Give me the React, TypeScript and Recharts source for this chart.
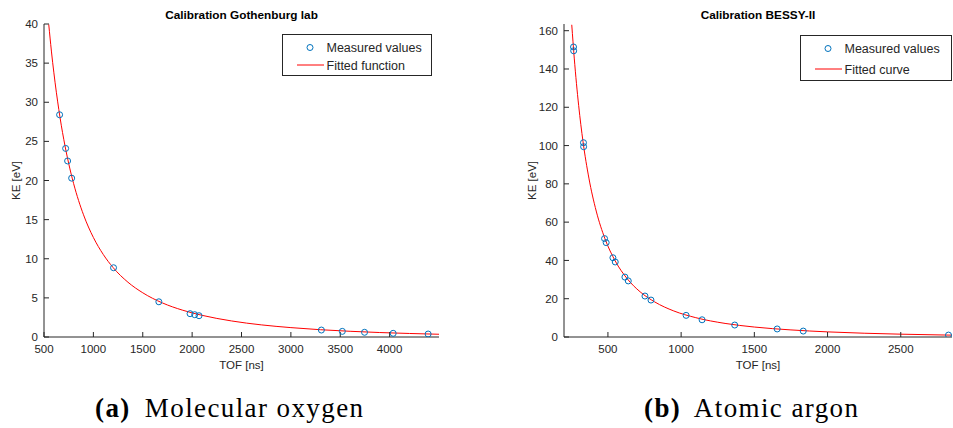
import React from "react";
import { ComposedChart, Scatter, Line, XAxis, YAxis, Legend } from "recharts";

// Gothenburg lab, molecular oxygen
const o2Tof = [658, 719, 739, 780, 1204, 1663, 1979, 2026, 2070, 3309, 3521, 3746, 4036, 4390];
const o2Ke = [28.4, 24.1, 22.5, 20.3, 8.85, 4.5, 2.98, 2.85, 2.72, 0.89, 0.72, 0.6, 0.47, 0.38];
const o2FitTof = [548, 575, 600, 650, 700, 750, 800, 900, 1000, 1100, 1200, 1350, 1500, 1700, 1900, 2100, 2400, 2700, 3000, 3300, 3600, 3900, 4200, 4500];
const o2FitKe = [39.95, 36.54, 33.76, 29.06, 25.27, 22.17, 19.6, 15.62, 12.72, 10.55, 8.87, 7.0, 5.65, 4.35, 3.44, 2.77, 2.05, 1.55, 1.2, 0.93, 0.73, 0.57, 0.45, 0.35];
const o2TofTicks = [500, 1000, 1500, 2000, 2500, 3000, 3500, 4000];
const o2KeTicks = [0, 5, 10, 15, 20, 25, 30, 35, 40];

// BESSY-II, atomic argon
const arTof = [265, 266, 333, 334, 477, 488, 534, 550, 616, 639, 753, 794, 1034, 1143, 1366, 1656, 1834, 2826];
const arKe = [151.5, 149.5, 101.5, 99.4, 51.4, 49.3, 41.4, 39.2, 31.3, 29.3, 21.4, 19.3, 11.3, 9.0, 6.25, 4.2, 3.1, 1.0];
const arFitTof = [253, 270, 300, 330, 370, 420, 480, 550, 630, 720, 820, 950, 1100, 1300, 1500, 1750, 2000, 2250, 2500, 2850];
const arFitKe = [163.1, 145.7, 121.0, 102.0, 83.0, 65.8, 51.3, 39.7, 30.6, 23.6, 18.3, 13.6, 10.1, 7.1, 5.2, 3.7, 2.67, 1.97, 1.47, 0.97];
const arTofTicks = [500, 1000, 1500, 2000, 2500];
const arKeTicks = [0, 20, 40, 60, 80, 100, 120, 140, 160];

const zip = (xs: number[], ys: number[]) => xs.map((x, i) => ({ x, y: ys[i] }));

const AX = "#262626";
const FONT = "'Liberation Sans', Arial, sans-serif";
const tickStyle = { fontSize: 11.5, fill: AX, fontFamily: FONT };

const Ring = (p: any) => (
  <circle cx={p.cx} cy={p.cy} r={3} fill="none" stroke="#0072BD" strokeWidth={1} />
);

const LegendBox = ({ fitLabel, w, h, row1, row2 }: any) => (
  <div
    style={{
      position: "relative",
      width: w,
      height: h,
      border: `1px solid ${AX}`,
      background: "#fff",
      boxSizing: "border-box",
    }}
  >
    <svg width={w} height={h} style={{ position: "absolute", left: -1, top: -1 }}>
      <circle cx={28} cy={row1} r={3} fill="none" stroke="#0072BD" strokeWidth={1} />
      <line x1={15} x2={42} y1={row2} y2={row2} stroke="#ff0000" strokeWidth={1} />
      <text x={44.5} y={row1 + 4.5} fontSize={12.5} fill={AX} fontFamily={FONT}>Measured values</text>
      <text x={44.5} y={row2 + 4.5} fontSize={12.5} fill={AX} fontFamily={FONT}>{fitLabel}</text>
    </svg>
  </div>
);

const Panel = ({ left, width, yw, mr, pts, fit, xDom, xTicks, yDom, yTicks, title, fitLabel, lx, ly, lw, lh, row1, row2, ylOff }: any) => (
  <div style={{ position: "absolute", left, top: 0, width, height: 372 }}>
    <ComposedChart width={width} height={372} margin={{ top: 24, right: mr, bottom: 0, left: 0 }}>
      <XAxis
        xAxisId="b"
        dataKey="x"
        type="number"
        domain={xDom}
        ticks={xTicks}
        allowDataOverflow
        height={35}
        tickSize={-5}
        tickMargin={13}
        tick={tickStyle}
        stroke={AX}
        label={{ value: "TOF [ns]", position: "insideBottom", offset: 3, style: { fontSize: 11.5, fill: AX, fontFamily: FONT } }}
      />
      <XAxis
        xAxisId="t"
        orientation="top"
        type="number"
        domain={xDom}
        ticks={xTicks}
        allowDataOverflow
        height={0}
        tickSize={-5}
        tick={() => <g />}
        stroke={AX}
      />
      <YAxis
        yAxisId="l"
        dataKey="y"
        type="number"
        domain={yDom}
        ticks={yTicks}
        allowDataOverflow
        width={yw}
        tickSize={-5}
        tickMargin={11}
        tick={tickStyle}
        stroke={AX}
        label={{ value: "KE [eV]", angle: -90, position: "insideLeft", offset: ylOff, style: { fontSize: 11.5, fill: AX, fontFamily: FONT, textAnchor: "middle" } }}
      />
      <YAxis
        yAxisId="r"
        orientation="right"
        type="number"
        domain={yDom}
        ticks={yTicks}
        allowDataOverflow
        width={0}
        tickSize={-5}
        tick={() => <g />}
        stroke={AX}
      />
      <Line
        xAxisId="b"
        yAxisId="l"
        data={fit}
        dataKey="y"
        type="monotone"
        stroke="#ff0000"
        strokeWidth={1}
        dot={false}
        isAnimationActive={false}
      />
      <Scatter xAxisId="b" yAxisId="l" data={pts} dataKey="y" shape={<Ring />} isAnimationActive={false} />
      <Legend
        verticalAlign="middle"
        layout="horizontal"
        wrapperStyle={{ position: "absolute", left: lx, top: ly, width: lw, height: lh }}
        content={() => <LegendBox fitLabel={fitLabel} w={lw} h={lh} row1={row1} row2={row2} />}
      />
    </ComposedChart>
    <div
      style={{
        position: "absolute",
        left: yw,
        width: width - yw - mr,
        top: 7,
        textAlign: "center",
        fontFamily: FONT,
        fontSize: 11.8,
        fontWeight: "bold",
        color: "#000",
        lineHeight: "16px",
      }}
    >
      {title}
    </div>
  </div>
);

const captionStyle: React.CSSProperties = {
  position: "absolute",
  top: 393,
  fontFamily: "'Liberation Serif', 'Times New Roman', serif",
  fontSize: 27,
  letterSpacing: 1.4,
  color: "#000",
  whiteSpace: "nowrap",
};

export default function App() {
  return (
    <div style={{ position: "fixed", left: 0, top: 0, width: 953, height: 428, background: "#fff", overflow: "hidden" }}>
      <Panel
        left={0}
        width={460}
        yw={44}
        mr={21}
        pts={zip(o2Tof, o2Ke)}
        fit={zip(o2FitTof, o2FitKe)}
        xDom={[500, 4500]}
        xTicks={o2TofTicks}
        yDom={[0, 40]}
        yTicks={o2KeTicks}
        title="Calibration Gothenburg lab"
        fitLabel="Fitted function"
        lx={282}
        ly={34}
        lw={150}
        lh={42}
        row1={13.5}
        row2={31}
        ylOff={16}
      />
      <Panel
        left={490}
        width={463}
        yw={74}
        mr={1}
        pts={zip(arTof, arKe)}
        fit={zip(arFitTof, arFitKe)}
        xDom={[200, 2850]}
        xTicks={arTofTicks}
        yDom={[0, 163.5]}
        yTicks={arKeTicks}
        title="Calibration BESSY-II"
        fitLabel="Fitted curve"
        lx={310}
        ly={35}
        lw={152}
        lh={46}
        row1={13.5}
        row2={34}
        ylOff={42}
      />
      <div style={{ ...captionStyle, left: 95 }}>
        <b style={{ marginRight: 6 }}>(a)</b> Molecular oxygen
      </div>
      <div style={{ ...captionStyle, left: 644 }}>
        <b style={{ marginRight: 6 }}>(b)</b> Atomic argon
      </div>
    </div>
  );
}
